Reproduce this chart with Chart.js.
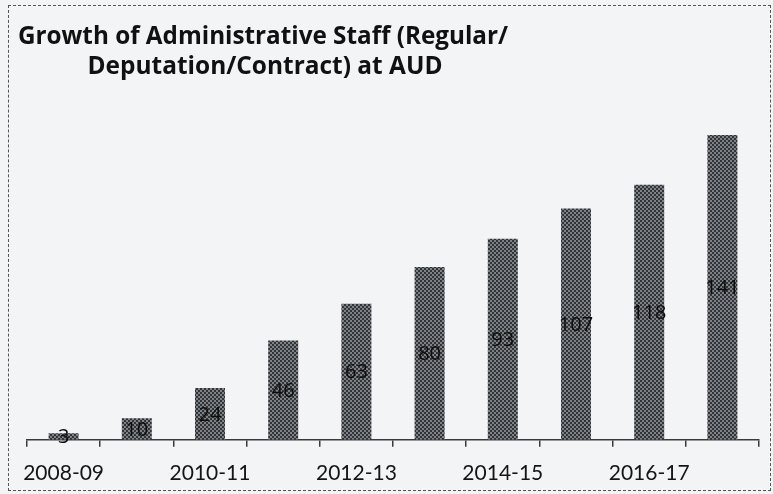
<!DOCTYPE html>
<html>
<head>
<meta charset="utf-8">
<script src="https://cdn.jsdelivr.net/npm/chart.js@4.4.1/dist/chart.umd.min.js"></script>
<style>
    html, body { margin: 0; padding: 0; background: #f3f4f6; }
    #wrap { position: relative; width: 773px; height: 494px; }
    #frame {
        position: absolute; left: 8px; top: 5px; right: 2px; bottom: 3px;
        border: 1px dashed #555; pointer-events: none;
    }
</style>
</head>
<body>
<div id="wrap">
    <canvas id="staff-chart" width="773" height="494"></canvas>
    <div id="frame"></div>
</div>
<script>
const titleLines = ['Growth of Administrative Staff (Regular/', 'Deputation/Contract) at AUD'];
const years = ['2008-09', '2009-10', '2010-11', '2011-12', '2012-13', '2013-14', '2014-15', '2015-16', '2016-17', '2017-18'];
const staffCounts = [3, 10, 24, 46, 63, 80, 93, 107, 118, 141];

function makePattern() {
    let pc = document.createElement('canvas');
    pc.width = 4;
    pc.height = 4;
    let p = pc.getContext('2d');
    p.fillStyle = '#7e8286';
    p.fillRect(0, 0, 4, 4);
    p.fillStyle = '#313437';
    p.fillRect(0, 0, 2, 2);
    p.fillRect(2, 2, 2, 2);
    return p.createPattern(pc, 'repeat');
}

// title drawn by hand: two lines centred on x=264, not on the chart
const titlePlugin = {
    id: 'twoLineTitle',
    afterDraw(chart) {
        const ctx = chart.ctx;
        ctx.save();
        ctx.fillStyle = '#111';
        ctx.font = 'bold 25px "Open Sans"';
        ctx.textAlign = 'center';
        ctx.textBaseline = 'alphabetic';
        ctx.fillText(titleLines[0], 263, 44, 490);
        ctx.fillText(titleLines[1], 265, 74, 355);
        ctx.restore();
    }
};

// value labels in the middle of each bar
const valuePlugin = {
    id: 'barValues',
    afterDatasetsDraw(chart) {
        const ctx = chart.ctx;
        const meta = chart.getDatasetMeta(0);
        ctx.save();
        ctx.fillStyle = '#0d0d0d';
        ctx.font = '20px "Open Sans"';
        ctx.textAlign = 'center';
        ctx.textBaseline = 'middle';
        meta.data.forEach((bar, i) => {
            ctx.fillText(staffCounts[i], bar.x, (bar.y + bar.base) / 2 + 1, 36);
        });
        ctx.restore();
    }
};

var ctx = document.getElementById('staff-chart').getContext('2d');
window.staffChart = new Chart(ctx, {
    type: 'bar',
    data: {
        labels: years,
        datasets: [{
            label: 'Administrative Staff',
            data: staffCounts,
            backgroundColor: makePattern(),
            borderWidth: 0,
            barPercentage: 0.41,
            categoryPercentage: 1.0
        }]
    },
    options: {
        responsive: false,
        animation: false,
        layout: {
            padding: { left: 27, right: 14, top: 94, bottom: -6 }
        },
        scales: {
            x: {
                grid: {
                    display: true,
                    drawOnChartArea: false,
                    drawTicks: true,
                    tickLength: 7,
                    color: '#3a3a3a',
                    lineWidth: 1.5
                },
                border: { display: true, color: '#3a3a3a', width: 1.5 },
                ticks: {
                    autoSkip: false,
                    maxRotation: 0,
                    padding: 14,
                    color: '#151515',
                    font: { family: 'Lato', size: 21 },
                    callback: function(val, index) {
                        return index % 2 === 0 ? this.getLabelForValue(val) : '';
                    }
                }
            },
            y: {
                display: false,
                min: 0,
                max: 160
            }
        },
        plugins: {
            legend: { display: false },
            tooltip: { enabled: false }
        }
    },
    plugins: [titlePlugin, valuePlugin]
});
</script>
</body>
</html>
